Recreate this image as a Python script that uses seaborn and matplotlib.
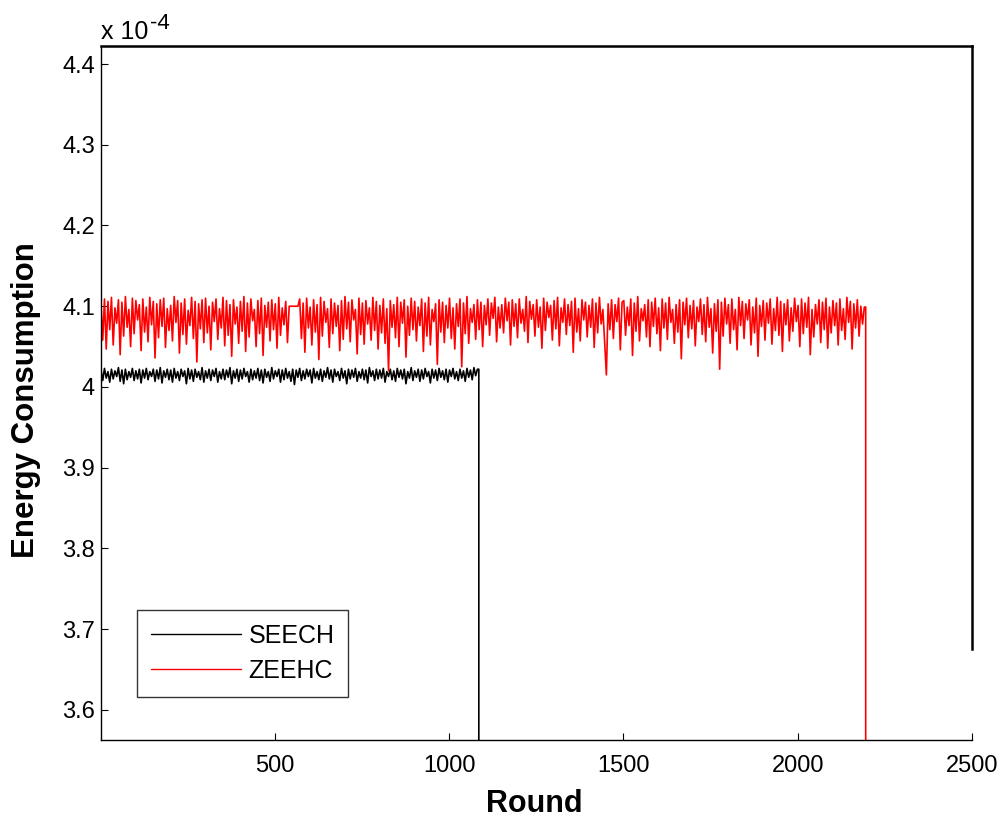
import numpy as np
import pandas as pd
import matplotlib
matplotlib.use("Agg")
import matplotlib.pyplot as plt
import seaborn as sns

# ---------------- data (energy in units of 1e-7) ----------------
series_names = ["SEECH", "ZEEHC"]
series_colors = ["black", "red"]
death_rounds = [1085, 2195]      # round where each protocol's energy line drops out
round_step = 5                   # sampled every 5 rounds
x_ticks = [500, 1000, 1500, 2000, 2500]
y_ticks = [3.6, 3.7, 3.8, 3.9, 4.0, 4.1, 4.2, 4.3, 4.4]
y_tick_labels = ["3.6", "3.7", "3.8", "3.9", "4", "4.1", "4.2", "4.3", "4.4"]

seech_e7 = [
    4021, 4008, 4023, 4011, 4019, 4006, 4022, 4010, 4020, 4013, 4024, 4007, 4021, 4004, 4022, 4009, 4019, 4012, 4023, 4008,
    4020, 4010, 4022, 4005, 4021, 4011, 4023, 4009, 4019, 4013, 4022, 4007, 4021, 4010, 4024, 4005, 4020, 4012, 4022, 4009,
    4021, 4006, 4023, 4011, 4019, 4008, 4022, 4013, 4020, 4004, 4023, 4010, 4021, 4007, 4022, 4012, 4019, 4009, 4024, 4006,
    4020, 4011, 4022, 4008, 4021, 4013, 4023, 4006, 4019, 4010, 4022, 4009, 4021, 4012, 4024, 4004, 4020, 4011, 4022, 4007,
    4021, 4010, 4023, 4013, 4019, 4006, 4022, 4009, 4020, 4011, 4023, 4008, 4021, 4005, 4022, 4012, 4019, 4007, 4024, 4010,
    4020, 4013, 4022, 4006, 4021, 4009, 4023, 4011, 4019, 4007, 4022, 4003, 4021, 4012, 4023, 4008, 4020, 4010, 4022, 4013,
    4021, 4005, 4023, 4011, 4019, 4009, 4022, 4007, 4020, 4012, 4024, 4010, 4021, 4006, 4022, 4013, 4019, 4008, 4023, 4011,
    4020, 4004, 4022, 4010, 4021, 4012, 4023, 4007, 4019, 4011, 4022, 4009, 4021, 4005, 4024, 4013, 4020, 4008, 4022, 4010,
    4021, 4011, 4023, 4006, 4019, 4013, 4022, 4009, 4020, 4007, 4023, 4012, 4021, 4010, 4022, 4004, 4019, 4011, 4024, 4008,
    4020, 4012, 4022, 4007, 4021, 4010, 4023, 4013, 4019, 4005, 4022, 4011, 4021, 4008, 4023, 4012, 4020, 4009, 4022, 4006,
    4021, 4013, 4023, 4010, 4019, 4008, 4022, 4011, 4020, 4007, 4023, 4012, 4021, 4009, 4024, 4014, 4022,
]

zeehc_e7 = [
    4104, 4058, 4109, 4047, 4106, 4071, 4111, 4052, 4098, 4079, 4108, 4040, 4105, 4063, 4112, 4074, 4096, 4050, 4110, 4066,
    4107, 4083, 4102, 4045, 4109, 4068, 4099, 4056, 4111, 4077, 4106, 4036, 4103, 4061, 4108, 4075, 4110, 4049, 4097, 4070,
    4101, 4057, 4112, 4080, 4107, 4042, 4104, 4065, 4109, 4053, 4095, 4076, 4111, 4060, 4106, 4031, 4103, 4072, 4108, 4055,
    4110, 4067, 4100, 4046, 4105, 4081, 4109, 4059, 4097, 4073, 4111, 4051, 4107, 4064, 4102, 4038, 4108, 4078, 4099, 4054,
    4106, 4069, 4112, 4044, 4104, 4062, 4109, 4082, 4096, 4050, 4107, 4066, 4110, 4039, 4101, 4074, 4105, 4057, 4108, 4071,
    4103, 4048, 4111, 4064, 4098, 4077, 4106, 4055, 4100, 4100, 4100, 4100, 4100, 4100, 4109, 4060, 4104, 4043, 4110, 4073,
    4099, 4052, 4108, 4068, 4102, 4034, 4111, 4063, 4106, 4080, 4097, 4049, 4109, 4066, 4104, 4075, 4101, 4045, 4107, 4059,
    4112, 4072, 4105, 4056, 4108, 4083, 4096, 4041, 4110, 4065, 4104, 4053, 4107, 4078, 4098, 4058, 4111, 4070, 4106, 4047,
    4101, 4067, 4109, 4054, 4097, 4020, 4107, 4074, 4102, 4061, 4111, 4050, 4105, 4079, 4108, 4037, 4100, 4064, 4110, 4071,
    4106, 4057, 4099, 4076, 4109, 4044, 4104, 4063, 4111, 4052, 4096, 4081, 4103, 4028, 4108, 4068, 4105, 4055, 4101, 4073,
    4110, 4060, 4098, 4047, 4103, 4075, 4109, 4025, 4104, 4066, 4112, 4054, 4097, 4080, 4102, 4059, 4108, 4071, 4105, 4050,
    4101, 4077, 4109, 4064, 4104, 4085, 4111, 4056, 4099, 4073, 4102, 4067, 4110, 4082, 4105, 4052, 4108, 4075, 4103, 4061,
    4109, 4079, 4096, 4069, 4112, 4055, 4106, 4084, 4102, 4063, 4108, 4074, 4099, 4048, 4110, 4070, 4105, 4086, 4101, 4058,
    4107, 4072, 4111, 4051, 4098, 4080, 4109, 4065, 4102, 4076, 4106, 4043, 4110, 4068, 4097, 4057, 4108, 4083, 4105, 4062,
    4101, 4074, 4109, 4049, 4104, 4067, 4111, 4078, 4096, 4056, 4015, 4103, 4071, 4108, 4060, 4102, 4081, 4110, 4046, 4105,
    4107, 4064, 4099, 4076, 4109, 4039, 4104, 4069, 4112, 4057, 4097, 4082, 4102, 4062, 4108, 4050, 4105, 4075, 4110, 4066,
    4098, 4045, 4109, 4073, 4104, 4059, 4111, 4080, 4096, 4054, 4102, 4068, 4108, 4035, 4105, 4077, 4110, 4061, 4101, 4072,
    4107, 4051, 4099, 4081, 4109, 4065, 4102, 4056, 4111, 4074, 4097, 4042, 4103, 4069, 4108, 4022, 4105, 4063, 4110, 4078,
    4102, 4054, 4109, 4071, 4096, 4046, 4111, 4076, 4106, 4060, 4103, 4083, 4108, 4052, 4099, 4067, 4110, 4038, 4101, 4075,
    4107, 4058, 4104, 4079, 4109, 4053, 4097, 4070, 4111, 4064, 4106, 4044, 4103, 4077, 4108, 4057, 4098, 4069, 4110, 4081,
    4101, 4050, 4109, 4066, 4104, 4074, 4111, 4040, 4096, 4062, 4102, 4078, 4108, 4055, 4105, 4071, 4110, 4048, 4099, 4067,
    4107, 4076, 4104, 4052, 4109, 4070, 4097, 4059, 4111, 4080, 4106, 4047, 4103, 4073, 4108, 4063, 4100, 4078, 4099,
]

# ---------------- build long table ----------------
frames = []
for name, vals, death in zip(series_names, [seech_e7, zeehc_e7], death_rounds):
    rounds = list(np.arange(1, 1 + round_step * len(vals), round_step))
    energy = [v / 1000.0 for v in vals]          # in units of 1e-4
    rounds += [death, death, 2500]
    energy += [energy[-1], 0.0, 0.0]
    frames.append(pd.DataFrame({"Round": rounds, "Energy": energy, "Protocol": name}))
df = pd.concat(frames, ignore_index=True)

# ---------------- style ----------------
sns.set_theme(style="white")
plt.rcParams["font.family"] = ["Liberation Sans", "DejaVu Sans"]
plt.rcParams["text.color"] = "black"
plt.rcParams["axes.labelcolor"] = "black"
plt.rcParams["xtick.color"] = "black"
plt.rcParams["ytick.color"] = "black"

fig = plt.figure(figsize=(10.07, 8.23), dpi=100)
ax = fig.add_axes([101 / 1007, 1 - 740 / 823, (972 - 101) / 1007, (740 - 46) / 823])

sns.lineplot(data=df, x="Round", y="Energy", hue="Protocol", hue_order=series_names,
             palette=dict(zip(series_names, series_colors)), estimator=None, sort=False,
             units="Protocol", linewidth=1.2, ax=ax, legend=True)

ax.set_xlim(1, 2500)
ax.set_ylim(3.5628, 4.4223)
ax.set_xticks(x_ticks)
ax.set_xticklabels([str(t) for t in x_ticks])
ax.set_yticks(y_ticks)
ax.set_yticklabels(y_tick_labels)
ax.tick_params(axis="both", direction="in", length=5, width=0.8, colors="black",
               labelsize=17, bottom=True, left=True)
ax.tick_params(axis="y", pad=4.3)
ax.tick_params(axis="x", pad=11)

for side in ["left", "bottom", "top", "right"]:
    ax.spines[side].set_color("black")
    ax.spines[side].set_linewidth(1.0)
ax.spines["top"].set_linewidth(1.8)
ax.spines["right"].set_linewidth(1.8)
ax.spines["right"].set_bounds(3.675, 4.4223)

ax.set_xlabel("Round", fontsize=22, fontweight="bold", color="black")
ax.set_ylabel("Energy Consumption", fontsize=22.5, fontweight="bold", color="black")
ax.xaxis.set_label_coords(0.498, -0.071)
ax.yaxis.set_label_coords(-0.069, 0.49)

leg = ax.legend(loc="lower left", bbox_to_anchor=(0.0413, 0.062), borderaxespad=0,
                frameon=True, fancybox=False, shadow=False, edgecolor="black",
                fontsize=18, handlelength=3.6, handletextpad=0.32, labelspacing=0.45,
                borderpad=0.55, title=None)
leg.get_frame().set_linewidth(1.0)
for line in leg.get_lines():
    line.set_linewidth(1.0)
for txt in leg.get_texts():
    txt.set_color("black")

fig.text(101 / 1007, 1 - 39 / 823, "x 10", fontsize=18, ha="left", va="baseline", color="black")
fig.text(150 / 1007, 1 - 29 / 823, "-4", fontsize=16, ha="left", va="baseline", color="black")

fig.savefig("out.png", dpi=100)
